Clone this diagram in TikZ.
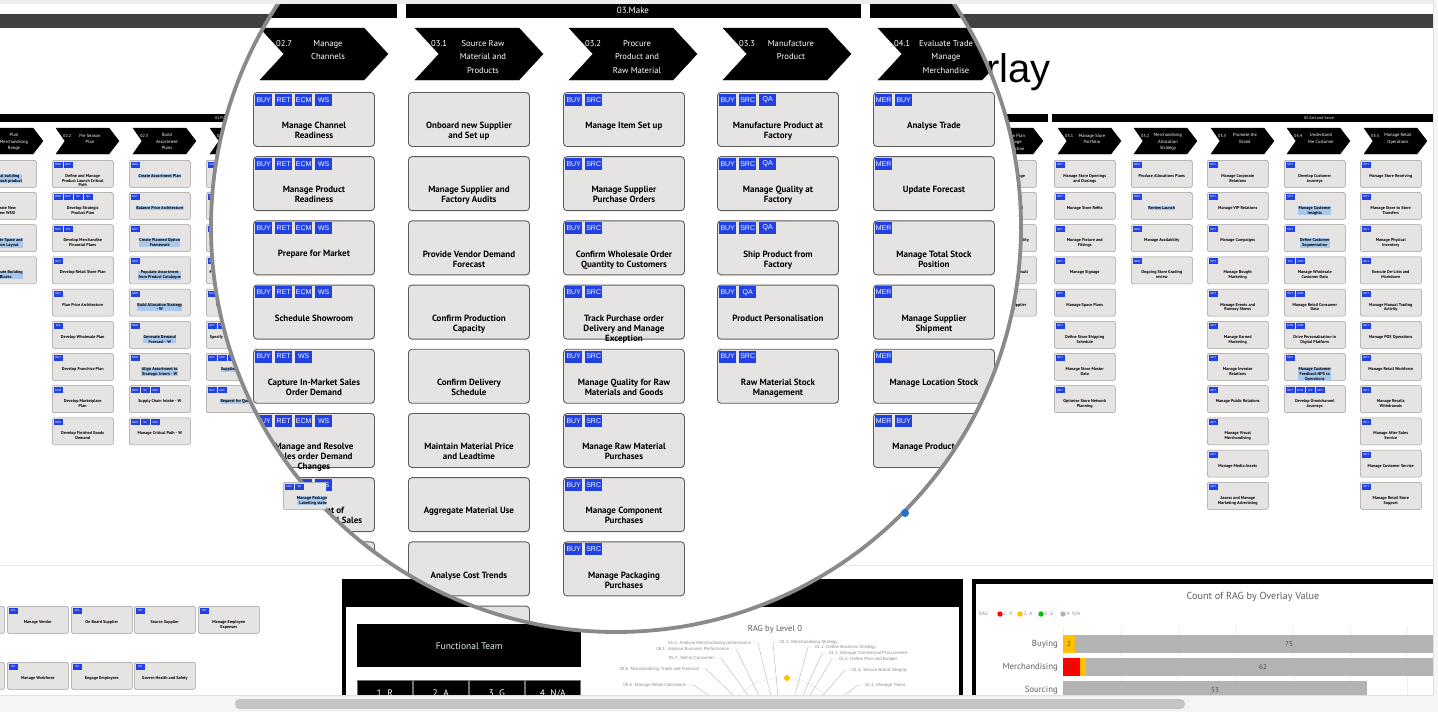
\documentclass[tikz,border=0pt]{standalone}
\usepackage{fontspec}
\setmainfont{PT Sans}
\newfontfamily\arialfont{Liberation Sans}
\usetikzlibrary{calc, positioning}

\definecolor{tagblue}{HTML}{2241E3}
\definecolor{boxgray}{HTML}{E6E4E2}
\definecolor{boxline}{HTML}{5C5C5C}
\definecolor{smline}{HTML}{9C9C9C}
\definecolor{hlblue}{HTML}{A8C8EE}
\definecolor{headgray}{HTML}{404040}
\definecolor{ringgray}{HTML}{8A8A8A}
\definecolor{labgray}{HTML}{605E5C}
\definecolor{ragred}{HTML}{FF0000}
\definecolor{ragamber}{HTML}{FFC000}
\definecolor{raggreen}{HTML}{00C000}
\definecolor{raggrey}{HTML}{B3B3B3}
\definecolor{pinblue}{HTML}{1E74D2}
\definecolor{teamcyan}{HTML}{DDF2F2}

% magnified process box: name, x, y, tags, text
\newcommand{\magbox}[5]{%
  \node[magbox] (#1) at (#2,#3) {};
  \edef\magtags{#4}%
  \foreach \tn [count=\k] in \magtags
    {\node[magtag] (#1t\k) at ($(#1.north west)+(20*\k-18,1.5)$) {\tn};}
  \node[magtext] (#1l) at ($(#1.north)+(0,30)$) {#5};
}
\newcommand{\magplain}[4]{%
  \node[magbox] (#1) at (#2,#3) {};
  \node[magtext] (#1l) at ($(#1.north)+(0,30)$) {#4};
}
% magnified chevron: name, x, number, title
\newcommand{\magchev}[4]{%
  \draw[fill=black] (#2,28) -- ++(104,0) -- ++(24,26) -- ++(-24,26)
    -- ++(-104,0) -- ++(24,-26) -- cycle;
  \node[chevnum] (#1n) at (#2+16,43) {#3};
  \node[chevtitle] (#1t) at (#2+68,40) {#4};
}
% small background box: name, x, y, tags, text, highlight
\newcommand{\smbox}[6]{%
  \node[smbox] (#1) at (#2,#3) {};
  \edef\smtags{#4}%
  \foreach \tn [count=\k] in \smtags
    {\node[smtag] (#1t\k) at ($(#1.north west)+(10*\k-8.5,1.5)$) {\tn};}
  \node[smtext, fill=#6] (#1l) at ($(#1.north)+(0,13.8)$) {#5};
}
\newcommand{\smchev}[4]{%
  \draw[fill=black] (#2,128) -- ++(53,0) -- ++(10,13) -- ++(-10,13)
    -- ++(-53,0) -- ++(9,-13) -- cycle;
  \node[smnum] (#1n) at (#2+7,136) {#3};
  \node[smtitle] (#1t) at (#2+34,133.6) {#4};
}

\tikzset{
  magbox/.style={draw=boxline, fill=boxgray, line width=0.9pt,
    rounded corners=3.5pt, minimum width=121, minimum height=54,
    anchor=north west, inner sep=0},
  magtag/.style={fill=tagblue, text=white, inner sep=0,
    minimum width=17, minimum height=12, anchor=north west,
    font=\arialfont\fontsize{7}{8}\selectfont},
  magtext/.style={anchor=north, align=center, inner sep=0,
    font=\bfseries\fontsize{9}{10}\selectfont},
  chevnum/.style={anchor=west, text=white, inner sep=0,
    font=\fontsize{8.6}{10}\selectfont},
  chevtitle/.style={anchor=north, align=center, text=white, inner sep=0,
    font=\fontsize{8.6}{13.5}\selectfont},
  smbox/.style={draw=smline, fill=boxgray, line width=0.5pt,
    rounded corners=1.5pt, minimum width=61, minimum height=27,
    anchor=north west, inner sep=0},
  smtag/.style={fill=tagblue, text=white, inner sep=0, minimum width=9,
    minimum height=6, anchor=north west,
    font=\arialfont\fontsize{2.8}{3}\selectfont},
  smtext/.style={anchor=north, align=center, inner sep=0.3pt,
    font=\bfseries\fontsize{4.2}{4.8}\selectfont},
  smnum/.style={anchor=west, text=white, inner sep=0,
    font=\fontsize{4.3}{5}\selectfont},
  smtitle/.style={anchor=north, align=center, text=white, inner sep=0,
    font=\fontsize{4.5}{6.5}\selectfont},
  barlabel/.style={text=white, inner sep=0, font=\fontsize{4}{5}\selectfont},
  spoke/.style={draw=black!28, line width=0.4pt},
  raglab/.style={text=black!45, inner sep=0.8pt,
    font=\arialfont\fontsize{4.4}{5}\selectfont},
  legend/.style={text=black!45, inner sep=0, anchor=west,
    font=\fontsize{5}{6}\selectfont},
  catlab/.style={text=labgray, inner sep=0, anchor=east,
    font=\fontsize{8.8}{10}\selectfont},
  vallab/.style={text=black!70, inner sep=0, font=\fontsize{7}{8}\selectfont},
  ragcell/.style={fill=black, draw=black!55, line width=0.6pt, text=white,
    minimum width=55, minimum height=26, anchor=north west, inner sep=0,
    font=\fontsize{9.5}{11}\selectfont},
  gridln/.style={draw=black!6, line width=0.6pt}
}

\begin{document}
\begin{tikzpicture}[x=1pt, y=-1pt]
  \useasboundingbox (0,0) rectangle (1438,712);
  \fill[white] (0,0) rectangle (1438,712);

  % Page header and title
  \fill[headgray] (0,14) rectangle (1433,28);
  \node[anchor=base east, inner sep=0, font=\arialfont\fontsize{40}{44}\selectfont]
    (title) at (1051,82) {Overlay};

  % Section bars
  \fill (0,114) rectangle (560,122);
  \fill (565,114) rectangle (1048,122);
  \fill (1052,114) rectangle (1433,122);
  \node[barlabel, anchor=west] (planbar) at (215,118) {02.Plan};
  \node[barlabel] (sellbar) at (1319,118) {05.Sell and Serve};

  % Background chevrons
  \smchev{cA}{-20}{02.1}{Plan\\Merchandising\\Range}
  \smchev{cB}{56}{02.2}{Pre Season\\Plan}
  \smchev{cC}{133}{02.3}{Build\\Assortment\\Plans}
  \smchev{cD}{210}{02.4}{Develop\\Product}
  \smchev{cQ}{980}{04.2}{Action Plan\\Manage\\Production}
  \smchev{cR}{1058}{05.1}{Manage Store\\Portfolio}
  \smchev{cS}{1134}{05.2}{Merchandising\\Allocation\\Strategy}
  \smchev{cT}{1211}{05.3}{Promote the\\Brand}
  \smchev{cU}{1287}{05.4}{Understand\\the Customer}
  \smchev{cV}{1364}{05.5}{Manage Retail\\Operations}

  % Background boxes, plan columns
  \foreach \rw/\tg/\tx/\hh in {
    0/MER/{Global building\\view each product}/hlblue,
    1/MER/{Create New\\View WSSI}/none,
    2/MER/{Allocate Space and\\Option Layout}/hlblue,
    3/MER/{Distribute Building\\Blocks}/hlblue}
    {\smbox{pA\rw}{-25}{160+32.2*\rw}{\tg}{\tx}{\hh}}
  \foreach \rw/\tg/\tx/\hh in {
    0/{MER,BUY}/{Define and Manage\\Product Launch Critical\\Path}/none,
    1/{MER,BUY,SC,QA}/{Develop Strategic\\Product Plan}/none,
    2/{MER,FIN}/{Develop Merchandise\\Financial Plans}/none,
    3/RET/{Develop Retail Store Plan}/none,
    4/BUY/{Plan Price Architecture}/none,
    5/WS/{Develop Wholesale Plan}/none,
    6/RET/{Develop Franchise Plan}/none,
    7/ECM/{Develop Marketplace\\Plan}/none,
    8/MER/{Develop Finished Goods\\Demand}/none}
    {\smbox{pB\rw}{52}{160+32.2*\rw}{\tg}{\tx}{\hh}}
  \foreach \rw/\tg/\tx/\hh in {
    0/MER/{Create Assortment Plan}/hlblue,
    1/BUY/{Balance Price Architecture}/hlblue,
    2/BUY/{Create Planned Option\\Framework}/hlblue,
    3/MER/{Populate Assortment\\from Product Catalogue}/hlblue,
    4/MER/{Build Allocation Strategy\\- W}/hlblue,
    5/MER/{Generate Demand\\Forecast - W}/hlblue,
    6/MER/{Align Assortment to\\Strategic Intent - W}/hlblue,
    7/{MER,SC,SRC}/{Supply Chain Intake - W}/none,
    8/{MER,SC,SRC}/{Manage Critical Path - W}/none}
    {\smbox{pC\rw}{129}{160+32.2*\rw}{\tg}{\tx}{\hh}}
  \foreach \rw/\tg/\tx/\hh in {
    0/{SRC,BUY}/{Manage Product Costing}/none,
    1/SRC/{Create Product Samples}/none,
    2/SC/{Manage Fit and Sampling}/none,
    3/BUY/{Manage Product Development}/none,
    4/{BUY,SRC}/{Manage Raw Materials}/none,
    5/{BUY,SRC}/{Specify Product Requirements}/none,
    6/{BUY,SRC,QA}/{Supplier Sourcing}/hlblue,
    7/{BUY,SRC}/{Request for Quote}/hlblue}
    {\smbox{pD\rw}{206}{160+32.2*\rw}{\tg}{\tx}{\hh}}

  % Background boxes, sell columns
  \foreach \rw/\tx in {
    0/{Manage Price Change}, 1/{Reforecast Demand},
    2/{Manage Stock Availability}, 3/{Review Markdown Result},
    4/{Re-order from Supplier\\Production}}
    {\smbox{sQ\rw}{975}{160+32.2*\rw}{MER}{\tx}{none}}
  \foreach \rw/\tx in {
    0/{Manage Store Openings\\and Closings}, 1/{Manage Store Refits},
    2/{Manage Fixture and\\Fittings}, 3/{Manage Signage},
    4/{Manage Space Plans}, 5/{Define Store Shipping\\Schedule},
    6/{Manage Store Master\\Data}, 7/{Optimise Store Network\\Planning}}
    {\smbox{sR\rw}{1054}{160+32.2*\rw}{RET}{\tx}{none}}
  \foreach \rw/\tx/\hh in {
    0/{Produce Allocations Plans}/none, 1/{Review Launch}/hlblue,
    2/{Manage Availability}/none, 3/{Ongoing Store Grading\\review}/none}
    {\smbox{sS\rw}{1131}{160+32.2*\rw}{MER}{\tx}{\hh}}
  \foreach \rw/\tx in {
    0/{Manage Corporate\\Relations}, 1/{Manage VIP Relations},
    2/{Manage Campaigns}, 3/{Manage Bought\\Marketing},
    4/{Manage Events and\\Runway Shows}, 5/{Manage Earned\\Marketing},
    6/{Manage Investor\\Relations}, 7/{Manage Public Relations},
    8/{Manage Visual\\Merchandising}, 9/{Manage Media Assets},
    10/{Assess and Manage\\Marketing Advertising}}
    {\smbox{sT\rw}{1207}{160+32.2*\rw}{MKT}{\tx}{none}}
  \foreach \rw/\tg/\tx/\hh in {
    0/MKT/{Develop Customer\\Journeys}/none,
    1/MKT/{Manage Customer\\Insights}/hlblue,
    2/MKT/{Define Customer\\Segmentation}/hlblue,
    3/{WS,CRM}/{Manage Wholesale\\Customer Data}/none,
    4/{RET,CRM}/{Manage Retail Consumer\\Data}/none,
    5/{ECM,CRM}/{Drive Personalisation in\\Digital Platform}/none,
    6/MKT/{Manage Customer\\Feedback NPS to\\Operations}/hlblue,
    7/{RET,ECM,WS,MKT}/{Develop Omnichannel\\Journeys}/none}
    {\smbox{sU\rw}{1284}{160+32.2*\rw}{\tg}{\tx}{\hh}}
  \foreach \rw/\tx in {
    0/{Manage Store Receiving}, 1/{Manage Store to Store\\Transfers},
    2/{Manage Physical\\Inventory}, 3/{Execute De-Lists and\\Markdown},
    4/{Manage Manual Trading\\Activity}, 5/{Manage POS Operations},
    6/{Manage Retail Workforce}, 7/{Manage Recalls\\Withdrawals},
    8/{Manage After Sales\\Service}, 9/{Manage Customer Service},
    10/{Manage Retail Store\\Support}}
    {\smbox{sV\rw}{1360}{160+32.2*\rw}{RET}{\tx}{none}}

  % Support processes
  \draw[black!10] (0,565.5) -- (1433,565.5);
  \node[smbox] (fin0) at (-57,606) {};
  \foreach \cx/\tx [count=\i] in {7/{Manage Vendor}, 71/{On Board Supplier},
    134/{Source Supplier}, 198/{Manage Employee\\Expenses}}
    {\smbox{fin\i}{\cx}{606}{FIN}{\tx}{none}}
  \node[smbox] (hr0) at (-57,662) {};
  \foreach \cx/\tx [count=\i] in {7/{Manage Workforce}, 71/{Engage Employees},
    134/{Govern Health and Safety}}
    {\smbox{hr\i}{\cx}{662}{HR}{\tx}{none}}

  % Functional team panel
  \fill (342,579) rectangle (963,607);
  \fill (342,579) rectangle (346,700);
  \fill (959,579) rectangle (963,700);
  \node[fill=black, minimum width=224, minimum height=43, anchor=north west,
    inner sep=0, text=teamcyan, font=\fontsize{9.5}{11}\selectfont]
    (team) at (357,624) {Functional Team};
  \foreach \lab [count=\i] in {1. R, 2. A, 3. G, 4. N/A}
    {\node[ragcell] (cell\i) at (357+56*\i-56,680) {\lab};}

  % RAG by level 0
  \node[text=labgray, inner sep=0, font=\fontsize{8.6}{10}\selectfont]
    (ragtitle) at (775,629) {RAG by Level 0};
  \coordinate (ragc) at (782,742);
  \draw[black!8, line width=0.6pt] (ragc) circle [radius=64];
  \draw[black!8, line width=0.6pt] (ragc) circle [radius=40];
  \foreach \tx/\cx/\cy [count=\i] in {
    06.2. Analyse Merchandising performance/752/643,
    06.1. Analyse Business Performance/730/649,
    05.7. Sell to Consumer/715/658,
    05.6. Merchandising Trade and Forecast/700/669,
    05.5. Manage Retail Operations/687/685}
    {\node[raglab, anchor=east] (rl\i) at (\cx,\cy) {\tx};
     \draw[spoke] (rl\i.east) -- ++(6,0) -- (ragc);}
  \foreach \tx/\cx/\cy [count=\i] in {
    01.3. Merchandising Strategy/779/642,
    01.1. Define Business Strategy/814/647,
    01.1. Manage Commercial Procurement/828/653,
    01.2. Define Plan and Budget/838/659,
    01.4. Secure Brand Integrity/851/670,
    02.1. Manage Talent/864/685}
    {\node[raglab, anchor=west] (rr\i) at (\cx,\cy) {\tx};
     \draw[spoke] (rr\i.west) -- ++(-6,0) -- (ragc);}
  \fill[ragamber] (787,678) circle [radius=3];

  % Count of RAG by overlay value
  \fill (972,579) rectangle (1433,584);
  \fill (972,579) rectangle (976,700);
  \node[text=labgray, inner sep=0, font=\fontsize{10.2}{12}\selectfont]
    (cnttitle) at (1253,597) {Count of RAG by Overlay Value};
  \node[legend] (legrag) at (979,614) {RAG};
  \foreach \cx/\cc/\lab [count=\i] in {1000/ragred/{1. R}, 1020/ragamber/{2. A},
    1041/raggreen/{3. G}, 1063/raggrey/{4. N/A}}
    {\fill[fill=\cc] (\cx,614) circle [radius=2.7];
     \node[legend] (leg\i) at (\cx+3.5,614) {\lab};}
  \foreach \gx in {1063,1121,1178,1235,1293,1350,1407}
    {\draw[gridln] (\gx,626) -- (\gx,700);}
  \fill[ragamber] (1063,635) rectangle (1075,653);
  \fill[raggrey] (1075,635) rectangle (1433,653);
  \fill[ragred] (1063,658) rectangle (1080,676);
  \fill[ragamber] (1080,658) rectangle (1086,676);
  \fill[raggrey] (1086,658) rectangle (1433,676);
  \fill[raggrey] (1063,681) rectangle (1367,699);
  \node[catlab] (buying) at (1058,644) {Buying};
  \node[catlab] (merch) at (1058,667) {Merchandising};
  \node[catlab] (sourcing) at (1058,690) {Sourcing};
  \node[vallab] (vb1) at (1069,644) {2};
  \node[vallab] (vb2) at (1289,644) {75};
  \node[vallab] (vm1) at (1071,667) {3};
  \node[vallab] (vm2) at (1263,667) {62};
  \node[vallab] (vs1) at (1215,690) {53};

  % Magnifier
  \begin{scope}
    \clip (616,227) circle [radius=405];
    \fill[white] (0,0) rectangle (1438,712);
    \fill (150,4) rectangle (397,18);
    \fill (406,4) rectangle (861,18);
    \fill (870,4) rectangle (1100,18);
    \node[text=white, inner sep=0, font=\fontsize{9}{10}\selectfont]
      (make) at (633,10) {03.Make};
    \foreach \cx/\num/\ttl [count=\i] in {
      260/02.7/{Manage\\Channels},
      415/03.1/{Source Raw\\Material and\\Products},
      569/03.2/{Procure\\Product and\\Raw Material},
      723/03.3/{Manufacture\\Product},
      878/04.1/{Evaluate Trade\\Manage\\Merchandise}}
      {\magchev{ch\i}{\cx}{\num}{\ttl}}
    % 02.7 Manage Channels
    \foreach \rw/\tg/\tx in {
      0/{BUY,RET,ECM,WS}/{Manage Channel\\Readiness},
      1/{BUY,RET,ECM,WS}/{Manage Product\\Readiness},
      2/{BUY,RET,ECM,WS}/{Prepare for Market},
      3/{BUY,RET,ECM,WS}/{Schedule Showroom},
      4/{BUY,RET,WS}/{Capture In-Market Sales\\Order Demand},
      5/{BUY,RET,ECM,WS}/{Manage and Resolve\\Sales order Demand\\Changes},
      6/{BUY,RET,ECM,WS}/{Management of\\Wholesale Channel Sales}}
      {\magbox{ma\rw}{253}{92+64.2*\rw}{\tg}{\tx}}
    \node[magbox] (ma7) at (253,92+64.2*7) {};
    % 03.1 Source raw material and products
    \foreach \rw/\tx in {
      0/{Onboard new Supplier\\and Set up},
      1/{Manage Supplier and\\Factory Audits},
      2/{Provide Vendor Demand\\Forecast},
      3/{Confirm Production\\Capacity},
      4/{Confirm Delivery\\Schedule},
      5/{Maintain Material Price\\and Leadtime},
      6/{Aggregate Material Use},
      7/{Analyse Cost Trends}}
      {\magplain{mb\rw}{408}{92+64.2*\rw}{\tx}}
    \node[magbox] (mb8) at (408,92+64.2*8) {};
    % 03.2 Procure product and raw material
    \foreach \rw/\tx in {
      0/{Manage Item Set up},
      1/{Manage Supplier\\Purchase Orders},
      2/{Confirm Wholesale Order\\Quantity to Customers},
      3/{Track Purchase order\\Delivery and Manage\\Exception},
      4/{Manage Quality for Raw\\Materials and Goods},
      5/{Manage Raw Material\\Purchases},
      6/{Manage Component\\Purchases},
      7/{Manage Packaging\\Purchases}}
      {\magbox{mc\rw}{563}{92+64.2*\rw}{BUY,SRC}{\tx}}
    % 03.3 Manufacture product
    \foreach \rw/\tg/\tx in {
      0/{BUY,SRC,QA}/{Manufacture Product at\\Factory},
      1/{BUY,SRC,QA}/{Manage Quality at\\Factory},
      2/{BUY,SRC,QA}/{Ship Product from\\Factory},
      3/{BUY,QA}/{Product Personalisation},
      4/{BUY,SRC}/{Raw Material Stock\\Management}}
      {\magbox{md\rw}{717}{92+64.2*\rw}{\tg}{\tx}}
    % 04.1 Evaluate trade
    \foreach \rw/\tg/\tx in {
      0/{MER,BUY}/{Analyse Trade},
      1/MER/{Update Forecast},
      2/MER/{Manage Total Stock\\Position},
      3/MER/{Manage Supplier\\Shipment},
      4/MER/{Manage Location Stock},
      5/{MER,BUY}/{Manage Product Flow}}
      {\magbox{me\rw}{873}{92+64.2*\rw}{\tg}{\tx}}
  \end{scope}
  \draw[ringgray, line width=3.8pt] (616,227) circle [radius=405];
  \fill[pinblue] (905,513) circle [radius=4];

  % Background box showing through the lens edge
  \begin{scope}
    \clip (276,476) rectangle (326,514);
    \smbox{pE10}{283}{482}{SRC,SH}{Manage Packaging\\Labelling status}{hlblue}
  \end{scope}

  % Browser chrome
  \fill[black!7] (0,0) rectangle (1438,4);
  \fill[black!4] (1433,0) rectangle (1438,712);
  \fill[black!4] (0,695) rectangle (1438,712);
  \draw[black!12] (0,695.5) -- (1433,695.5);
  \draw[black!12] (1433.5,0) -- (1433.5,695);
  \fill[black!23, rounded corners=4.5pt] (235,699) rectangle (1185,709);
\end{tikzpicture}
\end{document}
